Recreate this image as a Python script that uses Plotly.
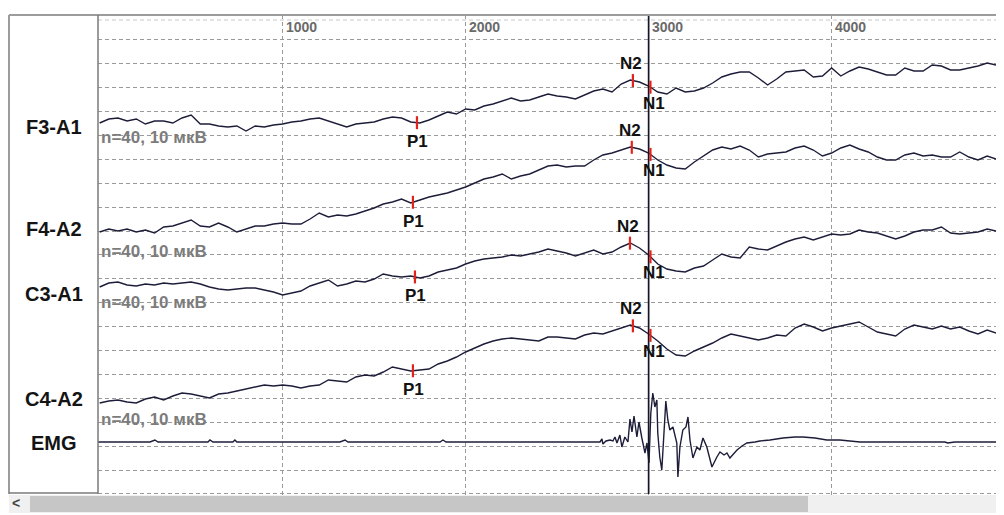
import numpy as np
import plotly.graph_objects as go

# ---------------- data ----------------
SAMPLE_MS = 50  # EEG traces sampled every 50 ms, starting at 0 ms

F3_A1 = [347, 351, 352, 349, 351, 346, 349, 349, 347, 352,
         355, 346, 346, 344, 343, 344, 339, 344, 343, 345,
         346, 348, 349, 351, 352, 349, 346, 343, 346, 347,
         348, 351, 353, 352, 348, 347, 350, 354, 358, 356,
         361, 360, 364, 366, 369, 372, 369, 370, 373, 376,
         374, 373, 371, 375, 379, 381, 378, 386, 390, 388,
         384, 378, 376, 382, 378, 379, 382, 387, 393, 396,
         398, 398, 392, 385, 391, 398, 399, 400, 393, 394,
         402, 394, 399, 403, 401, 398, 395, 395, 402, 399,
         399, 405, 404, 400, 400, 402, 404, 407, 405, 400]

F4_A2 = [238, 241, 239, 241, 238, 240, 237, 243, 244, 247,
         250, 244, 243, 247, 243, 238, 241, 244, 244, 246,
         247, 246, 246, 251, 257, 253, 255, 254, 256, 259,
         262, 266, 268, 271, 267, 270, 273, 275, 277, 280,
         283, 287, 291, 293, 296, 291, 294, 296, 300, 304,
         305, 303, 304, 304, 310, 315, 317, 320, 323, 321,
         317, 310, 305, 302, 301, 308, 314, 320, 323, 321,
         324, 320, 313, 316, 317, 318, 322, 324, 320, 314,
         317, 322, 325, 321, 318, 313, 310, 310, 315, 317,
         314, 315, 313, 313, 318, 313, 310, 314, 311, 307]

C3_A1 = [183, 187, 188, 185, 184, 186, 185, 187, 186, 187,
         188, 186, 183, 181, 180, 181, 182, 182, 180, 178,
         175, 177, 179, 184, 187, 190, 184, 186, 189, 188,
         191, 196, 194, 193, 194, 192, 194, 198, 200, 202,
         206, 209, 211, 212, 213, 215, 214, 216, 218, 221,
         219, 217, 214, 217, 220, 216, 218, 223, 227, 222,
         215, 206, 201, 199, 198, 202, 204, 210, 216, 213,
         212, 223, 221, 220, 224, 228, 231, 233, 230, 233,
         236, 235, 236, 240, 238, 237, 234, 231, 234, 238,
         240, 240, 243, 237, 236, 237, 238, 241, 239, 237]

C4_A2 = [67, 69, 70, 68, 67, 71, 73, 70, 74, 77,
         76, 74, 72, 76, 77, 79, 81, 83, 85, 84,
         85, 84, 82, 84, 85, 90, 89, 88, 93, 95,
         94, 98, 103, 101, 99, 100, 101, 106, 109, 113,
         118, 122, 126, 129, 131, 132, 131, 130, 129, 133,
         133, 132, 131, 135, 137, 136, 139, 142, 145, 142,
         136, 129, 121, 115, 114, 119, 123, 127, 132, 136,
         134, 132, 130, 132, 135, 134, 142, 146, 143, 139,
         142, 144, 146, 148, 143, 138, 136, 134, 141, 145,
         143, 141, 144, 141, 143, 139, 136, 140, 137, 133]

EMG_MS = [-9, 275, 302, 319, 592, 603, 619, 728, 739, 750,
          1095, 1313, 1341, 1357, 1860, 1876, 1893, 2188, 2515, 2734,
          2745, 2750, 2767, 2789, 2805, 2816, 2827, 2843, 2854, 2870,
          2887, 2898, 2909, 2920, 2936, 2947, 2963, 2980, 2991, 3002,
          3012, 3023, 3034, 3045, 3050, 3061, 3072, 3078, 3094, 3105,
          3116, 3133, 3154, 3160, 3171, 3187, 3204, 3215, 3226, 3242,
          3264, 3280, 3297, 3318, 3346, 3373, 3390, 3412, 3428, 3444,
          3483, 3510, 3537, 3581, 3608, 3663, 3734, 3800, 3843, 3909,
          3974, 4045, 4100, 4155, 4264, 4373, 4619, 4635, 4673, 4942]
EMG_V = [28, 28, 30, 28, 28, 30, 28, 28, 30, 28,
         28, 28, 30, 28, 28, 30, 28, 28, 28, 28,
         31, 26, 29, 30, 29, 33, 27, 35, 23, 33,
         28, 51, 38, 54, 33, 48, 32, 17, 27, 7,
         57, 77, 63, 70, 37, 13, 0, 23, 69, 50,
         40, 43, 27, -7, 23, 40, 43, 53, 30, 12,
         23, 20, 32, 23, 3, 13, 18, 15, 17, 12,
         20, 24, 27, 28, 29, 30, 32, 33, 33, 32,
         30, 30, 29, 28, 28, 28, 28, 27, 28, 28]

CHANNELS = ["F3-A1", "F4-A2", "C3-A1", "C4-A2"]
P1_MS = [1734, 1712, 1723, 1712]
N2_MS = [2914, 2908, 2898, 2914]
N1_MS = [3010, 3010, 3010, 3010]
CURSOR_MS = 3000
X_TICKS = [1000, 2000, 3000, 4000]
SCALE_TEXT = "n=40, 10 мкВ"

# ---------------- style / layout constants ----------------
FONT = "Liberation Sans, Arial, sans-serif"
TRACE_COLOR = "#1d1d3a"
GRID_COLOR = "#9a9a9a"
RED = "#e3231b"
GRID_STEP = 23.9
X_RANGE = [-9, 4942]
Y_RANGE = [-25, 455]
BODY = 8                      # page body margin of the html page
FIG_W, FIG_H = 1004 - BODY, 515 - BODY
PL, PT, W, H = 98, 15, 906, 480   # plot area position on the page


def px_x(p):
    return (p - PL) / W


def px_y(p):
    return (PT + H - p) / H


traces = [F3_A1, F4_A2, C3_A1, C4_A2]
t = [i * SAMPLE_MS for i in range(len(F3_A1))]

fig = go.Figure()
for name, vals in zip(CHANNELS, traces):
    fig.add_trace(go.Scatter(x=t, y=vals, mode="lines", name=name,
                             line=dict(color=TRACE_COLOR, width=1.4),
                             hoverinfo="skip"))
fig.add_trace(go.Scatter(x=EMG_MS, y=EMG_V, mode="lines", name="EMG",
                         line=dict(color=TRACE_COLOR, width=1.4),
                         hoverinfo="skip"))

shapes = []
annotations = []

# faint top dashed line
shapes.append(dict(type="line", xref="paper", yref="paper", x0=0, x1=1,
                   y0=px_y(20), y1=px_y(20),
                   line=dict(color="#c8c8c8", width=1, dash="4px,3px"),
                   layer="below"))

# cursor line
shapes.append(dict(type="line", xref="x", yref="paper", x0=CURSOR_MS, x1=CURSOR_MS,
                   y0=px_y(494), y1=1, line=dict(color="#15152a", width=1.7), layer="above"))

# frame
fl = px_x(9)
shapes += [
    dict(type="line", xref="paper", yref="paper", x0=fl, x1=1, y0=1, y1=1,
         line=dict(color="#9c9c9c", width=2)),
    dict(type="line", xref="paper", yref="paper", x0=fl, x1=fl, y0=1, y1=px_y(494),
         line=dict(color="#9c9c9c", width=2)),
    dict(type="line", xref="paper", yref="paper", x0=0, x1=0, y0=1, y1=px_y(494),
         line=dict(color="#7a7a7a", width=1.5)),
    dict(type="line", xref="paper", yref="paper", x0=fl, x1=0, y0=px_y(493), y1=px_y(493),
         line=dict(color="#7a7a7a", width=1.5)),
]
# scrollbar
shapes += [
    dict(type="rect", xref="paper", yref="paper", x0=fl, x1=1, y0=px_y(495), y1=px_y(513),
         fillcolor="#f0f0f0", line=dict(width=0)),
    dict(type="rect", xref="paper", yref="paper", x0=px_x(30), x1=px_x(808),
         y0=px_y(496), y1=px_y(512), fillcolor="#c6c6c6", line=dict(width=0)),
]
annotations.append(dict(xref="paper", yref="paper", x=px_x(16), y=px_y(503),
                        xanchor="center", yanchor="middle",
                        text="<b><</b>", showarrow=False,
                        font=dict(family=FONT, size=14, color="#444")))

# x tick labels at top
for tk in X_TICKS:
    annotations.append(dict(xref="x", yref="paper", x=tk, y=px_y(27), xanchor="left",
                            yanchor="middle", xshift=1, text=f"<b>{tk}</b>", showarrow=False,
                            font=dict(family=FONT, size=14, color="#6a6a6a")))

# channel labels
LABEL_Y = {"F3-A1": 343, "F4-A2": 241, "C3-A1": 176, "C4-A2": 71, "EMG": 27}
SCALE_Y = [333, 219, 168, 51]
for name, yv in LABEL_Y.items():
    annotations.append(dict(xref="paper", yref="y", x=px_x(54), y=yv, xanchor="center",
                            yanchor="middle", text=f"<b>{name}</b>", showarrow=False,
                            font=dict(family=FONT, size=20, color="#141414")))
for yv in SCALE_Y:
    annotations.append(dict(xref="paper", yref="y", x=px_x(99), y=yv, xanchor="left",
                            yanchor="middle", text=f"<b>{SCALE_TEXT}</b>", showarrow=False,
                            font=dict(family=FONT, size=17, color="#7c7c7c")))

# component markers
for vals, p1, n2, n1 in zip(traces, P1_MS, N2_MS, N1_MS):
    for ms, lab, dy, dx in [(p1, "P1", -19, 1), (n2, "N2", 17, -2), (n1, "N1", -16, 4)]:
        yv = float(np.interp(ms, t, vals))
        shapes.append(dict(type="line", xref="x", yref="y", x0=ms, x1=ms,
                           y0=yv - 6.5, y1=yv + 6.5,
                           line=dict(color=RED, width=2.2), layer="above"))
        annotations.append(dict(xref="x", yref="y", x=ms, y=yv, yshift=dy, xshift=dx,
                                xanchor="center", yanchor="middle",
                                text=f"<b>{lab}</b>", showarrow=False,
                                font=dict(family=FONT, size=17, color="#111111")))

fig.update_layout(
    width=FIG_W, height=FIG_H,
    margin=dict(l=PL - BODY, r=max(0, FIG_W - (PL - BODY) - W), t=PT - BODY,
                b=FIG_H - (PT - BODY) - H, pad=0),
    paper_bgcolor="white", plot_bgcolor="white",
    showlegend=False,
    shapes=shapes, annotations=annotations,
    xaxis=dict(range=X_RANGE, tickvals=X_TICKS, showticklabels=False, ticks="",
               showgrid=True, gridcolor=GRID_COLOR, griddash="4px,3px", gridwidth=1,
               zeroline=False, showline=False, fixedrange=True),
    yaxis=dict(range=Y_RANGE, tick0=0, dtick=GRID_STEP, showticklabels=False, ticks="",
               showgrid=True, gridcolor=GRID_COLOR, griddash="4px,3px", gridwidth=1,
               zeroline=False, showline=False, fixedrange=True),
)

fig.write_html("out.html")
